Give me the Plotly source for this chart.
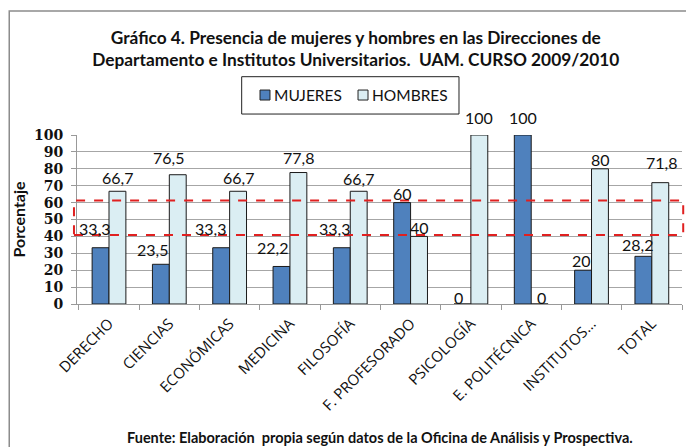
import plotly.graph_objects as go

# Datos del gráfico
categorias = ["DERECHO", "CIENCIAS", "ECONÓMICAS", "MEDICINA", "FILOSOFÍA",
              "F. PROFESORADO", "PSICOLOGÍA", "E. POLITÉCNICA", "INSTITUTOS…", "TOTAL"]
mujeres = [33.3, 23.5, 33.3, 22.2, 33.3, 60, 0, 100, 20, 28.2]
hombres = [66.7, 76.5, 66.7, 77.8, 66.7, 40, 100, 0, 80, 71.8]
y_ticks = [0, 10, 20, 30, 40, 50, 60, 70, 80, 90, 100]

# Desplazamientos de las etiquetas (px), como en el original
m_dx = [-6, -8.5, -10.5, -8.5, -7, 0, -3.5, 0, -2, -5.5]
m_dy = [19.5, 15, 19.5, 19, 19.5, 9.5, 6.5, 18, 9.5, 11.5]
h_dx = [0, -9, 0, 0, 0, 0, 0, 2, 0, 1]
h_dy = [13.5, 17.5, 13.5, 15, 13, 8.5, 18, 6.5, 9, 20.5]

BLUE = "#4F81BD"
LIGHT = "#DBEEF3"
TXT = "#111111"
LABEL_FONT = dict(family="Lato", size=16, color=TXT)


def fmt(v):
    return f"{v:g}".replace(".", ",")


fig = go.Figure()
fig.add_trace(go.Bar(x=categorias, y=mujeres, name="MUJERES",
                     marker=dict(color=BLUE, line=dict(color="#1a1a1a", width=1))))
fig.add_trace(go.Bar(x=categorias, y=hombres, name="HOMBRES",
                     marker=dict(color=LIGHT, line=dict(color="#1a1a1a", width=1))))

# Etiquetas de datos
bar_off = 8.5
for i, cat in enumerate(categorias):
    fig.add_annotation(x=cat, y=mujeres[i], text=fmt(mujeres[i]), showarrow=False,
                       xshift=-bar_off + m_dx[i], yshift=m_dy[i],
                       yanchor="middle", font=LABEL_FONT)
    fig.add_annotation(x=cat, y=hombres[i], text=fmt(hombres[i]), showarrow=False,
                       xshift=bar_off + h_dx[i], yshift=h_dy[i],
                       yanchor="middle", font=LABEL_FONT)

# Leyenda dibujada a mano (recuadro, símbolos y textos)
fig.add_shape(type="rect", xref="paper", yref="paper", x0=0.2722, x1=0.6314, y0=1.124, y1=1.345,
              line=dict(color="#222222", width=1), fillcolor="white")
for x0, color, name in [(0.3025, BLUE, "MUJERES"), (0.4645, LIGHT, "HOMBRES")]:
    fig.add_shape(type="rect", xref="paper", yref="paper", x0=x0, x1=x0 + 0.0165,
                  y0=1.207, y1=1.266, fillcolor=color, line=dict(color="#222222", width=1))
    fig.add_annotation(xref="paper", yref="paper", x=x0 + 0.019, y=1.237, text=name,
                       showarrow=False, xanchor="left", yanchor="middle",
                       font=dict(family="Lato", size=15.5, color=TXT))

# Pie de fuente
fig.add_annotation(xref="paper", yref="paper", x=0.501, y=-0.787,
                   text="<b>Fuente: Elaboración  propia según datos de la Oficina de Análisis y Prospectiva.</b>",
                   showarrow=False, yanchor="middle",
                   font=dict(family="Lato", size=14.5, color=TXT))

# Recuadro rojo discontinuo y marco exterior
fig.add_shape(type="rect", xref="paper", yref="paper", x0=-0.005, x1=1.002, y0=0.408, y1=0.613,
              line=dict(color="#E02020", width=2, dash="dash"))
fig.add_shape(type="rect", xref="paper", yref="paper", x0=-0.112, x1=1.03, y0=-1.0, y1=1.734,
              line=dict(color="#8C8C8C", width=1.5))

fig.update_layout(
    width=686, height=439,
    margin=dict(l=69, r=12, t=127, b=143),
    paper_bgcolor="white", plot_bgcolor="white",
    barmode="group", bargap=0.44, bargroupgap=0,
    title=dict(text="<b>Gráfico 4. Presencia de mujeres y hombres en las Direcciones de<br>"
                    "Departamento e Institutos Universitarios.  UAM. CURSO 2009/2010</b>",
               x=0.507, xanchor="center", y=0.919, yanchor="top", yref="container",
               font=dict(family="Lato", size=17.3, color=TXT)),
    showlegend=False,
)

fig.update_xaxes(type="category", tickangle=-45, tickson="boundaries", automargin=False,
                 ticks="outside", ticklen=5, tickcolor="#999999", ticklabelstandoff=4,
                 showline=True, linecolor="#999999", showgrid=False,
                 tickfont=dict(family="Open Sans", size=15, color=TXT))
fig.update_yaxes(range=[0, 100], tickvals=y_ticks, ticks="outside", ticklen=5, automargin=False,
                 tickcolor="#999999", showline=True, linecolor="#999999", ticklabelstandoff=5,
                 showgrid=True, gridcolor="#A6A6A6", gridwidth=1,
                 tickfont=dict(family="DejaVu Serif", size=14, color=TXT, weight="bold"),
                 title=dict(text="<b>Porcentaje</b>", standoff=4,
                            font=dict(family="Lato", size=16, color=TXT)))

fig.write_html("out.html")
